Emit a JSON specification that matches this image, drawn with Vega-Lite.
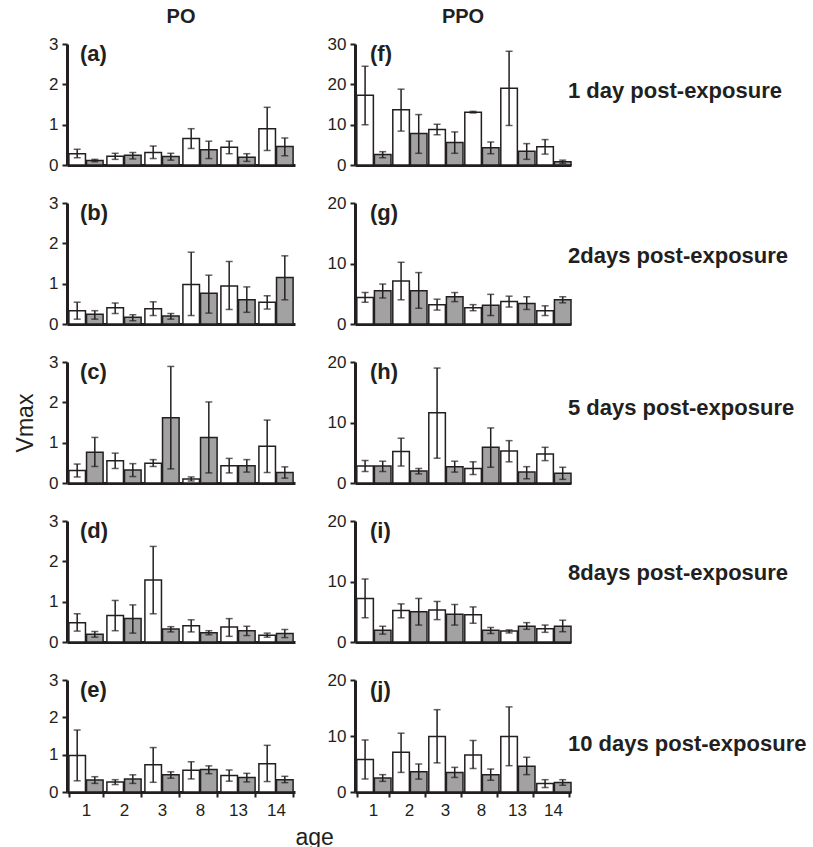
{
  "$schema": "https://vega.github.io/schema/vega-lite/v6.json",
  "padding": {"left": 14, "top": 7, "right": 5, "bottom": 2},
  "columns": 2,
  "align": "each",
  "spacing": {"row": 21, "column": -7},
  "datasets": {
    "bars": [
      {"p":"a","age":"1","grp":"w","v":0.28,"lo":0.18,"hi":0.39},
      {"p":"a","age":"1","grp":"g","v":0.11,"lo":0.08,"hi":0.14},
      {"p":"a","age":"2","grp":"w","v":0.22,"lo":0.14,"hi":0.29},
      {"p":"a","age":"2","grp":"g","v":0.24,"lo":0.15,"hi":0.31},
      {"p":"a","age":"3","grp":"w","v":0.31,"lo":0.16,"hi":0.47},
      {"p":"a","age":"3","grp":"g","v":0.21,"lo":0.12,"hi":0.29},
      {"p":"a","age":"8","grp":"w","v":0.66,"lo":0.41,"hi":0.90},
      {"p":"a","age":"8","grp":"g","v":0.38,"lo":0.16,"hi":0.59},
      {"p":"a","age":"13","grp":"w","v":0.44,"lo":0.28,"hi":0.59},
      {"p":"a","age":"13","grp":"g","v":0.19,"lo":0.09,"hi":0.28},
      {"p":"a","age":"14","grp":"w","v":0.90,"lo":0.36,"hi":1.43},
      {"p":"a","age":"14","grp":"g","v":0.46,"lo":0.23,"hi":0.67},
      {"p":"f","age":"1","grp":"w","v":17.3,"lo":10.0,"hi":24.5},
      {"p":"f","age":"1","grp":"g","v":2.6,"lo":1.8,"hi":3.3},
      {"p":"f","age":"2","grp":"w","v":13.7,"lo":8.4,"hi":18.8},
      {"p":"f","age":"2","grp":"g","v":7.8,"lo":2.9,"hi":12.5},
      {"p":"f","age":"3","grp":"w","v":8.8,"lo":7.5,"hi":10.1},
      {"p":"f","age":"3","grp":"g","v":5.6,"lo":2.9,"hi":8.2},
      {"p":"f","age":"8","grp":"w","v":13.1,"lo":12.9,"hi":13.3},
      {"p":"f","age":"8","grp":"g","v":4.3,"lo":2.8,"hi":5.7},
      {"p":"f","age":"13","grp":"w","v":19.0,"lo":9.8,"hi":28.2},
      {"p":"f","age":"13","grp":"g","v":3.4,"lo":1.4,"hi":5.3},
      {"p":"f","age":"14","grp":"w","v":4.5,"lo":2.7,"hi":6.3},
      {"p":"f","age":"14","grp":"g","v":0.8,"lo":0.4,"hi":1.2},
      {"p":"b","age":"1","grp":"w","v":0.33,"lo":0.12,"hi":0.54},
      {"p":"b","age":"1","grp":"g","v":0.24,"lo":0.12,"hi":0.33},
      {"p":"b","age":"2","grp":"w","v":0.40,"lo":0.26,"hi":0.52},
      {"p":"b","age":"2","grp":"g","v":0.17,"lo":0.08,"hi":0.23},
      {"p":"b","age":"3","grp":"w","v":0.38,"lo":0.21,"hi":0.55},
      {"p":"b","age":"3","grp":"g","v":0.20,"lo":0.12,"hi":0.26},
      {"p":"b","age":"8","grp":"w","v":0.98,"lo":0.21,"hi":1.78},
      {"p":"b","age":"8","grp":"g","v":0.76,"lo":0.27,"hi":1.21},
      {"p":"b","age":"13","grp":"w","v":0.94,"lo":0.36,"hi":1.55},
      {"p":"b","age":"13","grp":"g","v":0.60,"lo":0.29,"hi":0.92},
      {"p":"b","age":"14","grp":"w","v":0.54,"lo":0.37,"hi":0.70},
      {"p":"b","age":"14","grp":"g","v":1.15,"lo":0.60,"hi":1.69},
      {"p":"g","age":"1","grp":"w","v":4.4,"lo":3.6,"hi":5.2},
      {"p":"g","age":"1","grp":"g","v":5.5,"lo":4.3,"hi":6.6},
      {"p":"g","age":"2","grp":"w","v":7.1,"lo":4.0,"hi":10.2},
      {"p":"g","age":"2","grp":"g","v":5.5,"lo":2.6,"hi":8.5},
      {"p":"g","age":"3","grp":"w","v":3.2,"lo":2.3,"hi":4.1},
      {"p":"g","age":"3","grp":"g","v":4.5,"lo":3.7,"hi":5.2},
      {"p":"g","age":"8","grp":"w","v":2.7,"lo":2.2,"hi":3.2},
      {"p":"g","age":"8","grp":"g","v":3.1,"lo":1.4,"hi":4.9},
      {"p":"g","age":"13","grp":"w","v":3.7,"lo":2.8,"hi":4.6},
      {"p":"g","age":"13","grp":"g","v":3.4,"lo":2.4,"hi":4.5},
      {"p":"g","age":"14","grp":"w","v":2.2,"lo":1.4,"hi":3.0},
      {"p":"g","age":"14","grp":"g","v":4.0,"lo":3.5,"hi":4.5},
      {"p":"c","age":"1","grp":"w","v":0.31,"lo":0.15,"hi":0.47},
      {"p":"c","age":"1","grp":"g","v":0.76,"lo":0.41,"hi":1.13},
      {"p":"c","age":"2","grp":"w","v":0.55,"lo":0.36,"hi":0.74},
      {"p":"c","age":"2","grp":"g","v":0.32,"lo":0.16,"hi":0.48},
      {"p":"c","age":"3","grp":"w","v":0.49,"lo":0.41,"hi":0.58},
      {"p":"c","age":"3","grp":"g","v":1.62,"lo":0.35,"hi":2.89},
      {"p":"c","age":"8","grp":"w","v":0.10,"lo":0.05,"hi":0.15},
      {"p":"c","age":"8","grp":"g","v":1.13,"lo":0.25,"hi":2.01},
      {"p":"c","age":"13","grp":"w","v":0.43,"lo":0.25,"hi":0.61},
      {"p":"c","age":"13","grp":"g","v":0.43,"lo":0.27,"hi":0.58},
      {"p":"c","age":"14","grp":"w","v":0.91,"lo":0.26,"hi":1.56},
      {"p":"c","age":"14","grp":"g","v":0.26,"lo":0.12,"hi":0.40},
      {"p":"h","age":"1","grp":"w","v":2.8,"lo":1.9,"hi":3.7},
      {"p":"h","age":"1","grp":"g","v":2.8,"lo":1.9,"hi":3.6},
      {"p":"h","age":"2","grp":"w","v":5.2,"lo":2.8,"hi":7.4},
      {"p":"h","age":"2","grp":"g","v":2.0,"lo":1.5,"hi":2.4},
      {"p":"h","age":"3","grp":"w","v":11.6,"lo":4.1,"hi":19.0},
      {"p":"h","age":"3","grp":"g","v":2.7,"lo":1.8,"hi":3.6},
      {"p":"h","age":"8","grp":"w","v":2.4,"lo":1.4,"hi":3.5},
      {"p":"h","age":"8","grp":"g","v":5.9,"lo":2.6,"hi":9.1},
      {"p":"h","age":"13","grp":"w","v":5.3,"lo":3.5,"hi":7.0},
      {"p":"h","age":"13","grp":"g","v":1.8,"lo":0.7,"hi":2.7},
      {"p":"h","age":"14","grp":"w","v":4.8,"lo":3.7,"hi":5.9},
      {"p":"h","age":"14","grp":"g","v":1.6,"lo":0.6,"hi":2.6},
      {"p":"d","age":"1","grp":"w","v":0.48,"lo":0.27,"hi":0.70},
      {"p":"d","age":"1","grp":"g","v":0.19,"lo":0.12,"hi":0.26},
      {"p":"d","age":"2","grp":"w","v":0.66,"lo":0.28,"hi":1.03},
      {"p":"d","age":"2","grp":"g","v":0.58,"lo":0.22,"hi":0.92},
      {"p":"d","age":"3","grp":"w","v":1.54,"lo":0.70,"hi":2.37},
      {"p":"d","age":"3","grp":"g","v":0.32,"lo":0.25,"hi":0.38},
      {"p":"d","age":"8","grp":"w","v":0.40,"lo":0.25,"hi":0.55},
      {"p":"d","age":"8","grp":"g","v":0.23,"lo":0.18,"hi":0.28},
      {"p":"d","age":"13","grp":"w","v":0.37,"lo":0.14,"hi":0.58},
      {"p":"d","age":"13","grp":"g","v":0.28,"lo":0.16,"hi":0.39},
      {"p":"d","age":"14","grp":"w","v":0.17,"lo":0.12,"hi":0.22},
      {"p":"d","age":"14","grp":"g","v":0.21,"lo":0.11,"hi":0.31},
      {"p":"i","age":"1","grp":"w","v":7.2,"lo":4.0,"hi":10.4},
      {"p":"i","age":"1","grp":"g","v":1.95,"lo":1.3,"hi":2.6},
      {"p":"i","age":"2","grp":"w","v":5.2,"lo":4.0,"hi":6.3},
      {"p":"i","age":"2","grp":"g","v":5.0,"lo":2.8,"hi":7.2},
      {"p":"i","age":"3","grp":"w","v":5.3,"lo":3.7,"hi":6.7},
      {"p":"i","age":"3","grp":"g","v":4.6,"lo":2.8,"hi":6.2},
      {"p":"i","age":"8","grp":"w","v":4.5,"lo":3.1,"hi":5.8},
      {"p":"i","age":"8","grp":"g","v":1.95,"lo":1.4,"hi":2.4},
      {"p":"i","age":"13","grp":"w","v":1.8,"lo":1.5,"hi":2.0},
      {"p":"i","age":"13","grp":"g","v":2.6,"lo":2.1,"hi":3.2},
      {"p":"i","age":"14","grp":"w","v":2.2,"lo":1.6,"hi":2.8},
      {"p":"i","age":"14","grp":"g","v":2.6,"lo":1.7,"hi":3.6},
      {"p":"e","age":"1","grp":"w","v":0.98,"lo":0.30,"hi":1.66},
      {"p":"e","age":"1","grp":"g","v":0.32,"lo":0.23,"hi":0.41},
      {"p":"e","age":"2","grp":"w","v":0.27,"lo":0.20,"hi":0.33},
      {"p":"e","age":"2","grp":"g","v":0.35,"lo":0.23,"hi":0.46},
      {"p":"e","age":"3","grp":"w","v":0.73,"lo":0.26,"hi":1.19},
      {"p":"e","age":"3","grp":"g","v":0.46,"lo":0.37,"hi":0.54},
      {"p":"e","age":"8","grp":"w","v":0.58,"lo":0.35,"hi":0.81},
      {"p":"e","age":"8","grp":"g","v":0.60,"lo":0.49,"hi":0.70},
      {"p":"e","age":"13","grp":"w","v":0.44,"lo":0.29,"hi":0.59},
      {"p":"e","age":"13","grp":"g","v":0.39,"lo":0.27,"hi":0.50},
      {"p":"e","age":"14","grp":"w","v":0.76,"lo":0.28,"hi":1.25},
      {"p":"e","age":"14","grp":"g","v":0.33,"lo":0.25,"hi":0.42},
      {"p":"j","age":"1","grp":"w","v":5.8,"lo":2.3,"hi":9.3},
      {"p":"j","age":"1","grp":"g","v":2.5,"lo":1.9,"hi":3.1},
      {"p":"j","age":"2","grp":"w","v":7.1,"lo":3.5,"hi":10.5},
      {"p":"j","age":"2","grp":"g","v":3.6,"lo":2.3,"hi":5.0},
      {"p":"j","age":"3","grp":"w","v":9.9,"lo":5.2,"hi":14.7},
      {"p":"j","age":"3","grp":"g","v":3.5,"lo":2.6,"hi":4.4},
      {"p":"j","age":"8","grp":"w","v":6.6,"lo":4.2,"hi":9.2},
      {"p":"j","age":"8","grp":"g","v":3.1,"lo":2.1,"hi":4.1},
      {"p":"j","age":"13","grp":"w","v":9.9,"lo":4.7,"hi":15.2},
      {"p":"j","age":"13","grp":"g","v":4.6,"lo":3.1,"hi":6.2},
      {"p":"j","age":"14","grp":"w","v":1.5,"lo":0.8,"hi":2.2},
      {"p":"j","age":"14","grp":"g","v":1.7,"lo":1.2,"hi":2.2}
    ]
  },
  "concat": [
    {
      "width": 228, "height": 121,
      "title": {"text": "PO", "frame": "group", "offset": 8},
      "data": {"name": "bars"},
      "transform": [{"filter": "datum.p === 'a'"}],
      "encoding": {
        "x": {"field": "age", "type": "ordinal", "sort": ["1","2","3","8","13","14"], "scale": {"paddingInner": 0.1, "paddingOuter": 0.05}, "axis": {"title": null}},
        "y": {"field": "v", "type": "quantitative", "title": null, "scale": {"domain": [0, 3], "nice": false}, "axis": {"values": [0, 1, 2, 3]}}
      },
      "layer": [
        {"mark": {"type": "bar", "stroke": "#231f20", "strokeWidth": 1.5}, "encoding": {"xOffset": {"field": "grp", "sort": ["w","g"], "scale": {"paddingInner": 0.06}}, "fill": {"field": "grp", "scale": {"domain": ["w","g"], "range": ["#ffffff","#a2a2a2"]}, "legend": null}}},
        {"mark": {"type": "rule", "color": "#231f20", "strokeWidth": 1.5}, "encoding": {"xOffset": {"field": "grp", "sort": ["w","g"]}, "y": {"field": "lo", "type": "quantitative", "title": null}, "y2": {"field": "hi"}}},
        {"mark": {"type": "tick", "color": "#231f20", "size": 7, "thickness": 1.5}, "encoding": {"xOffset": {"field": "grp", "sort": ["w","g"]}, "y": {"field": "lo", "type": "quantitative", "title": null}}},
        {"mark": {"type": "tick", "color": "#231f20", "size": 7, "thickness": 1.5}, "encoding": {"xOffset": {"field": "grp", "sort": ["w","g"]}, "y": {"field": "hi", "type": "quantitative", "title": null}}},
        {"transform": [{"filter": "datum.age === '1' && datum.grp === 'w'"}], "mark": {"type": "text", "align": "left", "baseline": "top", "fontSize": 22, "fontWeight": "bold", "color": "#231f20", "dx": -6, "dy": 0}, "encoding": {"y": {"datum": 3}, "text": {"value": "(a)"}}}
      ]
    },
    {
      "width": 216, "height": 121,
      "title": {"text": "PPO", "frame": "group", "offset": 8},
      "data": {"name": "bars"},
      "transform": [{"filter": "datum.p === 'f'"}],
      "encoding": {
        "x": {"field": "age", "type": "ordinal", "sort": ["1","2","3","8","13","14"], "scale": {"paddingInner": 0.1, "paddingOuter": 0.05}, "axis": {"title": null}},
        "y": {"field": "v", "type": "quantitative", "title": null, "scale": {"domain": [0, 30], "nice": false}, "axis": {"values": [0, 10, 20, 30]}}
      },
      "layer": [
        {"mark": {"type": "bar", "stroke": "#231f20", "strokeWidth": 1.5}, "encoding": {"xOffset": {"field": "grp", "sort": ["w","g"], "scale": {"paddingInner": 0.06}}, "fill": {"field": "grp", "scale": {"domain": ["w","g"], "range": ["#ffffff","#a2a2a2"]}, "legend": null}}},
        {"mark": {"type": "rule", "color": "#231f20", "strokeWidth": 1.5}, "encoding": {"xOffset": {"field": "grp", "sort": ["w","g"]}, "y": {"field": "lo", "type": "quantitative", "title": null}, "y2": {"field": "hi"}}},
        {"mark": {"type": "tick", "color": "#231f20", "size": 7, "thickness": 1.5}, "encoding": {"xOffset": {"field": "grp", "sort": ["w","g"]}, "y": {"field": "lo", "type": "quantitative", "title": null}}},
        {"mark": {"type": "tick", "color": "#231f20", "size": 7, "thickness": 1.5}, "encoding": {"xOffset": {"field": "grp", "sort": ["w","g"]}, "y": {"field": "hi", "type": "quantitative", "title": null}}},
        {"transform": [{"filter": "datum.age === '1' && datum.grp === 'w'"}], "mark": {"type": "text", "align": "left", "baseline": "top", "fontSize": 22, "fontWeight": "bold", "color": "#231f20", "dx": -3, "dy": 0}, "encoding": {"y": {"datum": 30}, "text": {"value": "(f)"}}},
        {"transform": [{"filter": "datum.age === '14' && datum.grp === 'w'"}], "mark": {"type": "text", "align": "left", "baseline": "middle", "fontSize": 22, "fontWeight": "bold", "color": "#231f20", "dx": 15}, "encoding": {"y": {"datum": 18.3}, "text": {"value": "1 day post-exposure"}}}
      ]
    },
    {
      "width": 228, "height": 121,
      "data": {"name": "bars"},
      "transform": [{"filter": "datum.p === 'b'"}],
      "encoding": {
        "x": {"field": "age", "type": "ordinal", "sort": ["1","2","3","8","13","14"], "scale": {"paddingInner": 0.1, "paddingOuter": 0.05}, "axis": {"title": null}},
        "y": {"field": "v", "type": "quantitative", "title": null, "scale": {"domain": [0, 3], "nice": false}, "axis": {"values": [0, 1, 2, 3]}}
      },
      "layer": [
        {"mark": {"type": "bar", "stroke": "#231f20", "strokeWidth": 1.5}, "encoding": {"xOffset": {"field": "grp", "sort": ["w","g"], "scale": {"paddingInner": 0.06}}, "fill": {"field": "grp", "scale": {"domain": ["w","g"], "range": ["#ffffff","#a2a2a2"]}, "legend": null}}},
        {"mark": {"type": "rule", "color": "#231f20", "strokeWidth": 1.5}, "encoding": {"xOffset": {"field": "grp", "sort": ["w","g"]}, "y": {"field": "lo", "type": "quantitative", "title": null}, "y2": {"field": "hi"}}},
        {"mark": {"type": "tick", "color": "#231f20", "size": 7, "thickness": 1.5}, "encoding": {"xOffset": {"field": "grp", "sort": ["w","g"]}, "y": {"field": "lo", "type": "quantitative", "title": null}}},
        {"mark": {"type": "tick", "color": "#231f20", "size": 7, "thickness": 1.5}, "encoding": {"xOffset": {"field": "grp", "sort": ["w","g"]}, "y": {"field": "hi", "type": "quantitative", "title": null}}},
        {"transform": [{"filter": "datum.age === '1' && datum.grp === 'w'"}], "mark": {"type": "text", "align": "left", "baseline": "top", "fontSize": 22, "fontWeight": "bold", "color": "#231f20", "dx": -6, "dy": 0}, "encoding": {"y": {"datum": 3}, "text": {"value": "(b)"}}}
      ]
    },
    {
      "width": 216, "height": 121,
      "data": {"name": "bars"},
      "transform": [{"filter": "datum.p === 'g'"}],
      "encoding": {
        "x": {"field": "age", "type": "ordinal", "sort": ["1","2","3","8","13","14"], "scale": {"paddingInner": 0.1, "paddingOuter": 0.05}, "axis": {"title": null}},
        "y": {"field": "v", "type": "quantitative", "title": null, "scale": {"domain": [0, 20], "nice": false}, "axis": {"values": [0, 10, 20]}}
      },
      "layer": [
        {"mark": {"type": "bar", "stroke": "#231f20", "strokeWidth": 1.5}, "encoding": {"xOffset": {"field": "grp", "sort": ["w","g"], "scale": {"paddingInner": 0.06}}, "fill": {"field": "grp", "scale": {"domain": ["w","g"], "range": ["#ffffff","#a2a2a2"]}, "legend": null}}},
        {"mark": {"type": "rule", "color": "#231f20", "strokeWidth": 1.5}, "encoding": {"xOffset": {"field": "grp", "sort": ["w","g"]}, "y": {"field": "lo", "type": "quantitative", "title": null}, "y2": {"field": "hi"}}},
        {"mark": {"type": "tick", "color": "#231f20", "size": 7, "thickness": 1.5}, "encoding": {"xOffset": {"field": "grp", "sort": ["w","g"]}, "y": {"field": "lo", "type": "quantitative", "title": null}}},
        {"mark": {"type": "tick", "color": "#231f20", "size": 7, "thickness": 1.5}, "encoding": {"xOffset": {"field": "grp", "sort": ["w","g"]}, "y": {"field": "hi", "type": "quantitative", "title": null}}},
        {"transform": [{"filter": "datum.age === '1' && datum.grp === 'w'"}], "mark": {"type": "text", "align": "left", "baseline": "top", "fontSize": 22, "fontWeight": "bold", "color": "#231f20", "dx": -3, "dy": 0}, "encoding": {"y": {"datum": 20}, "text": {"value": "(g)"}}},
        {"transform": [{"filter": "datum.age === '14' && datum.grp === 'w'"}], "mark": {"type": "text", "align": "left", "baseline": "middle", "fontSize": 22, "fontWeight": "bold", "color": "#231f20", "dx": 15}, "encoding": {"y": {"datum": 11.2}, "text": {"value": "2days post-exposure"}}}
      ]
    },
    {
      "width": 228, "height": 121,
      "data": {"name": "bars"},
      "transform": [{"filter": "datum.p === 'c'"}],
      "encoding": {
        "x": {"field": "age", "type": "ordinal", "sort": ["1","2","3","8","13","14"], "scale": {"paddingInner": 0.1, "paddingOuter": 0.05}, "axis": {"title": null}},
        "y": {"field": "v", "type": "quantitative", "title": null, "scale": {"domain": [0, 3], "nice": false}, "axis": {"values": [0, 1, 2, 3], "title": "Vmax", "titlePadding": 11}}
      },
      "layer": [
        {"mark": {"type": "bar", "stroke": "#231f20", "strokeWidth": 1.5}, "encoding": {"xOffset": {"field": "grp", "sort": ["w","g"], "scale": {"paddingInner": 0.06}}, "fill": {"field": "grp", "scale": {"domain": ["w","g"], "range": ["#ffffff","#a2a2a2"]}, "legend": null}}},
        {"mark": {"type": "rule", "color": "#231f20", "strokeWidth": 1.5}, "encoding": {"xOffset": {"field": "grp", "sort": ["w","g"]}, "y": {"field": "lo", "type": "quantitative", "title": null}, "y2": {"field": "hi"}}},
        {"mark": {"type": "tick", "color": "#231f20", "size": 7, "thickness": 1.5}, "encoding": {"xOffset": {"field": "grp", "sort": ["w","g"]}, "y": {"field": "lo", "type": "quantitative", "title": null}}},
        {"mark": {"type": "tick", "color": "#231f20", "size": 7, "thickness": 1.5}, "encoding": {"xOffset": {"field": "grp", "sort": ["w","g"]}, "y": {"field": "hi", "type": "quantitative", "title": null}}},
        {"transform": [{"filter": "datum.age === '1' && datum.grp === 'w'"}], "mark": {"type": "text", "align": "left", "baseline": "top", "fontSize": 22, "fontWeight": "bold", "color": "#231f20", "dx": -6, "dy": 0}, "encoding": {"y": {"datum": 3}, "text": {"value": "(c)"}}}
      ]
    },
    {
      "width": 216, "height": 121,
      "data": {"name": "bars"},
      "transform": [{"filter": "datum.p === 'h'"}],
      "encoding": {
        "x": {"field": "age", "type": "ordinal", "sort": ["1","2","3","8","13","14"], "scale": {"paddingInner": 0.1, "paddingOuter": 0.05}, "axis": {"title": null}},
        "y": {"field": "v", "type": "quantitative", "title": null, "scale": {"domain": [0, 20], "nice": false}, "axis": {"values": [0, 10, 20]}}
      },
      "layer": [
        {"mark": {"type": "bar", "stroke": "#231f20", "strokeWidth": 1.5}, "encoding": {"xOffset": {"field": "grp", "sort": ["w","g"], "scale": {"paddingInner": 0.06}}, "fill": {"field": "grp", "scale": {"domain": ["w","g"], "range": ["#ffffff","#a2a2a2"]}, "legend": null}}},
        {"mark": {"type": "rule", "color": "#231f20", "strokeWidth": 1.5}, "encoding": {"xOffset": {"field": "grp", "sort": ["w","g"]}, "y": {"field": "lo", "type": "quantitative", "title": null}, "y2": {"field": "hi"}}},
        {"mark": {"type": "tick", "color": "#231f20", "size": 7, "thickness": 1.5}, "encoding": {"xOffset": {"field": "grp", "sort": ["w","g"]}, "y": {"field": "lo", "type": "quantitative", "title": null}}},
        {"mark": {"type": "tick", "color": "#231f20", "size": 7, "thickness": 1.5}, "encoding": {"xOffset": {"field": "grp", "sort": ["w","g"]}, "y": {"field": "hi", "type": "quantitative", "title": null}}},
        {"transform": [{"filter": "datum.age === '1' && datum.grp === 'w'"}], "mark": {"type": "text", "align": "left", "baseline": "top", "fontSize": 22, "fontWeight": "bold", "color": "#231f20", "dx": -3, "dy": 0}, "encoding": {"y": {"datum": 20}, "text": {"value": "(h)"}}},
        {"transform": [{"filter": "datum.age === '14' && datum.grp === 'w'"}], "mark": {"type": "text", "align": "left", "baseline": "middle", "fontSize": 22, "fontWeight": "bold", "color": "#231f20", "dx": 15}, "encoding": {"y": {"datum": 12.4}, "text": {"value": "5 days post-exposure"}}}
      ]
    },
    {
      "width": 228, "height": 121,
      "data": {"name": "bars"},
      "transform": [{"filter": "datum.p === 'd'"}],
      "encoding": {
        "x": {"field": "age", "type": "ordinal", "sort": ["1","2","3","8","13","14"], "scale": {"paddingInner": 0.1, "paddingOuter": 0.05}, "axis": {"title": null}},
        "y": {"field": "v", "type": "quantitative", "title": null, "scale": {"domain": [0, 3], "nice": false}, "axis": {"values": [0, 1, 2, 3]}}
      },
      "layer": [
        {"mark": {"type": "bar", "stroke": "#231f20", "strokeWidth": 1.5}, "encoding": {"xOffset": {"field": "grp", "sort": ["w","g"], "scale": {"paddingInner": 0.06}}, "fill": {"field": "grp", "scale": {"domain": ["w","g"], "range": ["#ffffff","#a2a2a2"]}, "legend": null}}},
        {"mark": {"type": "rule", "color": "#231f20", "strokeWidth": 1.5}, "encoding": {"xOffset": {"field": "grp", "sort": ["w","g"]}, "y": {"field": "lo", "type": "quantitative", "title": null}, "y2": {"field": "hi"}}},
        {"mark": {"type": "tick", "color": "#231f20", "size": 7, "thickness": 1.5}, "encoding": {"xOffset": {"field": "grp", "sort": ["w","g"]}, "y": {"field": "lo", "type": "quantitative", "title": null}}},
        {"mark": {"type": "tick", "color": "#231f20", "size": 7, "thickness": 1.5}, "encoding": {"xOffset": {"field": "grp", "sort": ["w","g"]}, "y": {"field": "hi", "type": "quantitative", "title": null}}},
        {"transform": [{"filter": "datum.age === '1' && datum.grp === 'w'"}], "mark": {"type": "text", "align": "left", "baseline": "top", "fontSize": 22, "fontWeight": "bold", "color": "#231f20", "dx": -6, "dy": 0}, "encoding": {"y": {"datum": 3}, "text": {"value": "(d)"}}}
      ]
    },
    {
      "width": 216, "height": 121,
      "data": {"name": "bars"},
      "transform": [{"filter": "datum.p === 'i'"}],
      "encoding": {
        "x": {"field": "age", "type": "ordinal", "sort": ["1","2","3","8","13","14"], "scale": {"paddingInner": 0.1, "paddingOuter": 0.05}, "axis": {"title": null}},
        "y": {"field": "v", "type": "quantitative", "title": null, "scale": {"domain": [0, 20], "nice": false}, "axis": {"values": [0, 10, 20]}}
      },
      "layer": [
        {"mark": {"type": "bar", "stroke": "#231f20", "strokeWidth": 1.5}, "encoding": {"xOffset": {"field": "grp", "sort": ["w","g"], "scale": {"paddingInner": 0.06}}, "fill": {"field": "grp", "scale": {"domain": ["w","g"], "range": ["#ffffff","#a2a2a2"]}, "legend": null}}},
        {"mark": {"type": "rule", "color": "#231f20", "strokeWidth": 1.5}, "encoding": {"xOffset": {"field": "grp", "sort": ["w","g"]}, "y": {"field": "lo", "type": "quantitative", "title": null}, "y2": {"field": "hi"}}},
        {"mark": {"type": "tick", "color": "#231f20", "size": 7, "thickness": 1.5}, "encoding": {"xOffset": {"field": "grp", "sort": ["w","g"]}, "y": {"field": "lo", "type": "quantitative", "title": null}}},
        {"mark": {"type": "tick", "color": "#231f20", "size": 7, "thickness": 1.5}, "encoding": {"xOffset": {"field": "grp", "sort": ["w","g"]}, "y": {"field": "hi", "type": "quantitative", "title": null}}},
        {"transform": [{"filter": "datum.age === '1' && datum.grp === 'w'"}], "mark": {"type": "text", "align": "left", "baseline": "top", "fontSize": 22, "fontWeight": "bold", "color": "#231f20", "dx": -3, "dy": 0}, "encoding": {"y": {"datum": 20}, "text": {"value": "(i)"}}},
        {"transform": [{"filter": "datum.age === '14' && datum.grp === 'w'"}], "mark": {"type": "text", "align": "left", "baseline": "middle", "fontSize": 22, "fontWeight": "bold", "color": "#231f20", "dx": 15}, "encoding": {"y": {"datum": 11.4}, "text": {"value": "8days post-exposure"}}}
      ]
    },
    {
      "width": 228, "height": 112,
      "data": {"name": "bars"},
      "transform": [{"filter": "datum.p === 'e'"}],
      "encoding": {
        "x": {"field": "age", "type": "ordinal", "sort": ["1","2","3","8","13","14"], "scale": {"paddingInner": 0.1, "paddingOuter": 0.05}, "axis": {"title": "age", "titleAnchor": "end", "titleAlign": "left", "titlePadding": 8, "labels": true, "ticks": true}},
        "y": {"field": "v", "type": "quantitative", "title": null, "scale": {"domain": [0, 3], "nice": false}, "axis": {"values": [0, 1, 2, 3]}}
      },
      "layer": [
        {"mark": {"type": "bar", "stroke": "#231f20", "strokeWidth": 1.5}, "encoding": {"xOffset": {"field": "grp", "sort": ["w","g"], "scale": {"paddingInner": 0.06}}, "fill": {"field": "grp", "scale": {"domain": ["w","g"], "range": ["#ffffff","#a2a2a2"]}, "legend": null}}},
        {"mark": {"type": "rule", "color": "#231f20", "strokeWidth": 1.5}, "encoding": {"xOffset": {"field": "grp", "sort": ["w","g"]}, "y": {"field": "lo", "type": "quantitative", "title": null}, "y2": {"field": "hi"}}},
        {"mark": {"type": "tick", "color": "#231f20", "size": 7, "thickness": 1.5}, "encoding": {"xOffset": {"field": "grp", "sort": ["w","g"]}, "y": {"field": "lo", "type": "quantitative", "title": null}}},
        {"mark": {"type": "tick", "color": "#231f20", "size": 7, "thickness": 1.5}, "encoding": {"xOffset": {"field": "grp", "sort": ["w","g"]}, "y": {"field": "hi", "type": "quantitative", "title": null}}},
        {"transform": [{"filter": "datum.age === '1' && datum.grp === 'w'"}], "mark": {"type": "text", "align": "left", "baseline": "top", "fontSize": 22, "fontWeight": "bold", "color": "#231f20", "dx": -6, "dy": 0}, "encoding": {"y": {"datum": 3}, "text": {"value": "(e)"}}}
      ]
    },
    {
      "width": 216, "height": 112,
      "data": {"name": "bars"},
      "transform": [{"filter": "datum.p === 'j'"}],
      "encoding": {
        "x": {"field": "age", "type": "ordinal", "sort": ["1","2","3","8","13","14"], "scale": {"paddingInner": 0.1, "paddingOuter": 0.05}, "axis": {"title": null, "labels": true, "ticks": true}},
        "y": {"field": "v", "type": "quantitative", "title": null, "scale": {"domain": [0, 20], "nice": false}, "axis": {"values": [0, 10, 20]}}
      },
      "layer": [
        {"mark": {"type": "bar", "stroke": "#231f20", "strokeWidth": 1.5}, "encoding": {"xOffset": {"field": "grp", "sort": ["w","g"], "scale": {"paddingInner": 0.06}}, "fill": {"field": "grp", "scale": {"domain": ["w","g"], "range": ["#ffffff","#a2a2a2"]}, "legend": null}}},
        {"mark": {"type": "rule", "color": "#231f20", "strokeWidth": 1.5}, "encoding": {"xOffset": {"field": "grp", "sort": ["w","g"]}, "y": {"field": "lo", "type": "quantitative", "title": null}, "y2": {"field": "hi"}}},
        {"mark": {"type": "tick", "color": "#231f20", "size": 7, "thickness": 1.5}, "encoding": {"xOffset": {"field": "grp", "sort": ["w","g"]}, "y": {"field": "lo", "type": "quantitative", "title": null}}},
        {"mark": {"type": "tick", "color": "#231f20", "size": 7, "thickness": 1.5}, "encoding": {"xOffset": {"field": "grp", "sort": ["w","g"]}, "y": {"field": "hi", "type": "quantitative", "title": null}}},
        {"transform": [{"filter": "datum.age === '1' && datum.grp === 'w'"}], "mark": {"type": "text", "align": "left", "baseline": "top", "fontSize": 22, "fontWeight": "bold", "color": "#231f20", "dx": -3, "dy": 0}, "encoding": {"y": {"datum": 20}, "text": {"value": "(j)"}}},
        {"transform": [{"filter": "datum.age === '14' && datum.grp === 'w'"}], "mark": {"type": "text", "align": "left", "baseline": "middle", "fontSize": 22, "fontWeight": "bold", "color": "#231f20", "dx": 15}, "encoding": {"y": {"datum": 8.6}, "text": {"value": "10 days post-exposure"}}}
      ]
    }
  ],
  "config": {
    "font": "Liberation Sans",
    "view": {"stroke": null},
    "axis": {"domainColor": "#231f20", "domainWidth": 3, "tickColor": "#231f20", "tickWidth": 2, "tickSize": 5, "labelFont": "Liberation Sans", "labelFontSize": 17, "labelColor": "#231f20", "labelPadding": 4, "grid": false, "titleFont": "Liberation Sans", "titleFontWeight": "normal", "titleFontSize": 23, "titleColor": "#231f20"},
    "axisX": {"labels": false, "ticks": false, "labelAngle": 0, "tickBand": "extent", "labelPadding": 5},
    "title": {"fontSize": 20, "fontWeight": "bold", "color": "#231f20", "font": "Liberation Sans"}
  }
}
